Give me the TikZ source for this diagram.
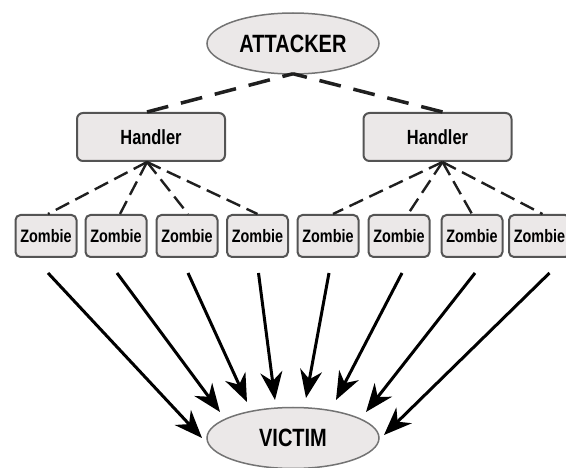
\documentclass[tikz,border=0pt]{standalone}
\usepackage{fontspec}
\usepackage{tikz}
\usetikzlibrary{arrows.meta, positioning, calc, shapes.geometric}
\newfontfamily\labelfont[FakeStretch=0.8]{Liberation Sans}
\definecolor{BoxFill}{rgb}{0.92, 0.91, 0.91}
\definecolor{BoxLine}{rgb}{0.33, 0.33, 0.33}
\definecolor{EllLine}{rgb}{0.45, 0.45, 0.45}
\definecolor{DashGray}{rgb}{0.12, 0.12, 0.12}

\begin{document}
\begin{tikzpicture}[x=1pt, y=-1pt,
    endpt/.style={ellipse, draw=EllLine, line width=1.5pt, fill=BoxFill, inner sep=0pt,
                  minimum width=172pt, minimum height=61pt,
                  font=\labelfont\bfseries\fontsize{25}{29}\selectfont},
    handlerbox/.style={rectangle, rounded corners=6pt, draw=BoxLine, line width=2pt, fill=BoxFill,
                  inner sep=0pt, minimum width=148pt, minimum height=48pt,
                  font=\labelfont\bfseries\fontsize{20.5}{24}\selectfont},
    zombiebox/.style={rectangle, rounded corners=5pt, draw=BoxLine, line width=2pt, fill=BoxFill,
                  inner sep=0pt, minimum width=61pt, minimum height=42pt,
                  font=\labelfont\bfseries\fontsize{18}{21}\selectfont},
    bigdash/.style={DashGray, line width=3.5pt, dash pattern=on 22pt off 13pt},
    smalldash/.style={DashGray, line width=2.4pt, dash pattern=on 15pt off 7pt},
    attack/.style={-{Stealth[length=28pt, width=22pt, inset=9pt]}, black, line width=3pt}]
    \useasboundingbox (0,0) rectangle (566,468);
    % Attacker and victim
    \node [endpt] (att) at (293,43.5) {ATTACKER};
    \node [endpt] (vic) at (293,438) {VICTIM};
    % Handlers
    \node [handlerbox] (hl) at (151,137) {Handler};
    \node [handlerbox] (hr) at (437.5,137) {Handler};
    % Zombies
    \node [zombiebox] (z1) at (46,236) {Zombie};
    \node [zombiebox] (z2) at (116,236) {Zombie};
    \node [zombiebox] (z3) at (187,236) {Zombie};
    \node [zombiebox] (z4) at (257.5,236) {Zombie};
    \node [zombiebox] (z5) at (328,236) {Zombie};
    \node [zombiebox] (z6) at (399,236) {Zombie};
    \node [zombiebox] (z7) at (472,236) {Zombie};
    \node [zombiebox] (z8) at (539.5,236) {Zombie};
    % Attacker to handlers
    \draw [bigdash] ([xshift=-4pt]hl.north) -- ([yshift=1pt]att.south);
    \draw [bigdash] ([xshift=5pt]hr.north) -- ([yshift=1pt]att.south);
    % Handlers to zombies
    \draw [smalldash] ([xshift=-4pt]hl.south) -- ([xshift=2pt]z1.north);
    \draw [smalldash] ([xshift=-4pt]hl.south) -- ([xshift=4pt]z2.north);
    \draw [smalldash] ([xshift=-4pt]hl.south) -- ([xshift=1pt]z3.north);
    \draw [smalldash] ([xshift=-4pt]hl.south) -- (z4.north);
    \draw [smalldash] ([xshift=5pt]hr.south) -- ([xshift=5pt]z5.north);
    \draw [smalldash] ([xshift=5pt]hr.south) -- ([xshift=9pt]z6.north);
    \draw [smalldash] ([xshift=5pt]hr.south) -- (z7.north);
    \draw [smalldash] ([xshift=5pt]hr.south) -- ([xshift=3pt]z8.north);
    % Arrow tips around the victim
    \coordinate (t1) at (202,438);
    \coordinate (t2) at (220,412);
    \coordinate (t3) at (247,402);
    \coordinate (t4) at (275,400);
    \coordinate (t5) at (306,398);
    \coordinate (t6) at (336,400);
    \coordinate (t7) at (366,412);
    \coordinate (t8) at (384,435);
    % Flood towards the victim
    \draw [attack] ([shift={(2pt,-15pt)}]z1.south) -- (t1);
    \draw [attack] ([shift={(1pt,-15pt)}]z2.south) -- (t2);
    \draw [attack] ([shift={(1pt,-15pt)}]z3.south) -- (t3);
    \draw [attack] ([shift={(1pt,-15pt)}]z4.south) -- (t4);
    \draw [attack] ([shift={(1pt,-15pt)}]z5.south) -- (t5);
    \draw [attack] ([shift={(3pt,-15pt)}]z6.south) -- (t6);
    \draw [attack] ([shift={(3pt,-15pt)}]z7.south) -- (t7);
    \draw [attack] ([shift={(10pt,-15pt)}]z8.south) -- (t8);
\end{tikzpicture}
\end{document}
